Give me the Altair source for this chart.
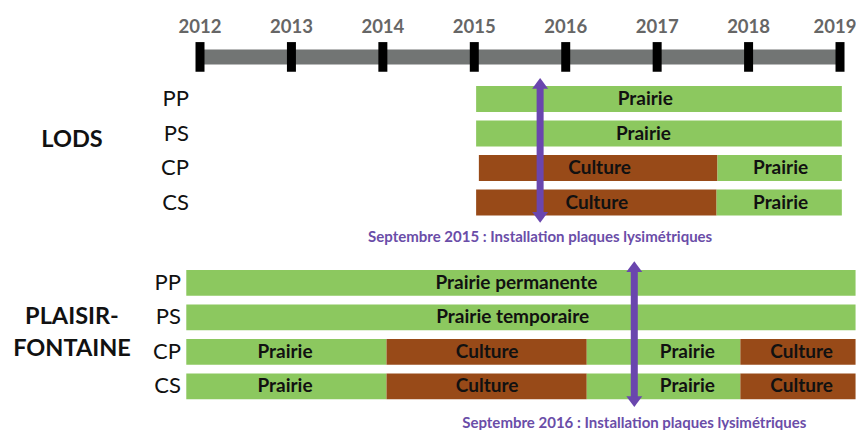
import altair as alt
import pandas as pd

# ---- data ----
years = [2012, 2013, 2014, 2015, 2016, 2017, 2018, 2019]

site_names = ["LODS", "PLAISIR-FONTAINE"]
plot_codes = ["PP", "PS", "CP", "CS"]
site_row_offset = [1.0, 6.33]   # first row of each site block

# segments: (site, plot, land use, start year, end year, label, label position)
seg_site = ["LODS"] * 6 + ["PLAISIR-FONTAINE"] * 10
seg_plot = ["PP", "PS", "CP", "CP", "CS", "CS",
            "PP", "PS", "CP", "CP", "CP", "CP", "CS", "CS", "CS", "CS"]
seg_use = ["Prairie", "Prairie", "Culture", "Prairie", "Culture", "Prairie",
           "Prairie", "Prairie", "Prairie", "Culture", "Prairie", "Culture",
           "Prairie", "Culture", "Prairie", "Culture"]
seg_start = [2015.02, 2015.02, 2015.05, 2017.66, 2015.02, 2017.65,
             2011.85, 2011.85, 2011.85, 2014.04, 2016.23, 2017.91,
             2011.85, 2014.04, 2016.23, 2017.91]
seg_end = [2019.02, 2019.02, 2017.66, 2019.02, 2017.65, 2019.02,
           2019.17, 2019.17, 2014.04, 2016.23, 2017.91, 2019.17,
           2014.04, 2016.23, 2017.91, 2019.17]
seg_label = ["Prairie", "Prairie", "Culture", "Prairie", "Culture", "Prairie",
             "Prairie permanente", "Prairie temporaire", "Prairie", "Culture", "Prairie", "Culture",
             "Prairie", "Culture", "Prairie", "Culture"]
seg_label_at = [2016.87, 2016.85, 2016.37, 2018.35, 2016.34, 2018.35,
                2015.46, 2015.42, 2012.93, 2015.14, 2017.33, 2018.58,
                2012.93, 2015.14, 2017.33, 2018.58]

install_dates = [2015.72, 2016.75]
install_labels = ["Septembre 2015 : Installation plaques lysimétriques",
                  "Septembre 2016 : Installation plaques lysimétriques"]
arrow_top = [0.39, 5.70]
arrow_bottom = [4.59, 9.93]
install_text_row = [5.0, 10.38]

# ---- tables ----
def row_of(site, code):
    return site_row_offset[site_names.index(site)] + plot_codes.index(code)

segs = pd.DataFrame({
    "site": seg_site, "plot": seg_plot, "use": seg_use,
    "start": seg_start, "end": seg_end,
    "label": seg_label, "label_at": seg_label_at,
})
segs["row"] = [row_of(s, p) for s, p in zip(segs["site"], segs["plot"])]
segs["top"] = segs["row"] - 0.375
segs["bot"] = segs["row"] + 0.375

rows = pd.DataFrame([{"site": s, "plot": p, "row": row_of(s, p)}
                     for s in site_names for p in plot_codes])

tl = pd.DataFrame({"year": years, "label": [str(y) for y in years]})
tl["row"] = -0.22
tl["lab_row"] = -1.09
tl["t0"] = -0.65
tl["t1"] = 0.21
tl_bar = pd.DataFrame({"start": [years[0]], "end": [years[-1]], "row": [-0.22]})

arr = pd.DataFrame({"x": install_dates, "top": arrow_top, "bot": arrow_bottom,
                    "label": install_labels, "trow": install_text_row})
arr["s0"] = arr["top"] + 0.2
arr["s1"] = arr["bot"] - 0.2

groups = pd.DataFrame({
    "text": ["LODS", "PLAISIR-", "FONTAINE"],
    "row": [2.2, 7.32, 8.25],
})

W = 848
X = alt.Scale(domain=[2009.9, 2009.9 + W / 91.43], nice=False, zero=False)
Y = alt.Scale(domain=[-1.638, 10.594], nice=False, zero=False, reverse=True)
FONT = "Lato"
GREEN = "#8CC85F"
BROWN = "#984A18"
PURPLE = "#6A46AE"

def xq(f):
    return alt.X(f, type="quantitative", scale=X, axis=None)

def yq(f):
    return alt.Y(f, type="quantitative", scale=Y, axis=None)

base_tl = alt.Chart(tl_bar).mark_rule(color="#727574", strokeWidth=15).encode(
    x=xq("start"), x2="end", y=yq("row"))

ticks = alt.Chart(tl).mark_rule(color="black", strokeWidth=9, strokeCap="butt").encode(
    x=xq("year"), y=yq("t0"), y2="t1")

year_text = alt.Chart(tl[tl["year"] < years[-1]]).mark_text(
    font=FONT, fontSize=18.5, fontWeight="bold", color="#666666").encode(
    x=xq("year"), y=yq("lab_row"), text="label:N")

year_text_last = alt.Chart(tl[tl["year"] == years[-1]]).mark_text(
    font=FONT, fontSize=18.5, fontWeight="bold", color="#666666", dx=-5).encode(
    x=xq("year"), y=yq("lab_row"), text="label:N")

bars = alt.Chart(segs).mark_rect().encode(
    x=xq("start"), x2="end", y=yq("top"), y2="bot",
    color=alt.Color("use:N", scale=alt.Scale(domain=["Prairie", "Culture"],
                                             range=[GREEN, BROWN]), legend=None))

bar_text = alt.Chart(segs).mark_text(font=FONT, fontSize=19, fontWeight="bold",
                                     color="#111111").encode(
    x=xq("label_at"), y=yq("row"), text="label:N")

row_lods = alt.Chart(rows[rows["site"] == "LODS"]).mark_text(
    font=FONT, fontSize=22, align="right", color="#111111").encode(
    x=alt.value(181), y=yq("row"), text="plot:N")

row_pf = alt.Chart(rows[rows["site"] == "PLAISIR-FONTAINE"]).mark_text(
    font=FONT, fontSize=22, align="right", color="#111111").encode(
    x=alt.value(173), y=yq("row"), text="plot:N")

group_text = alt.Chart(groups).mark_text(font=FONT, fontSize=23.5, fontWeight="bold",
                                         color="#111111").encode(
    x=alt.value(64), y=yq("row"), text="text:N")

shaft = alt.Chart(arr).mark_rule(color=PURPLE, strokeWidth=7, strokeCap="butt").encode(
    x=xq("x"), y=yq("s0"), y2="s1")

head_up = alt.Chart(arr).mark_point(shape="M0,0L-1,1.35L1,1.35Z", size=256, filled=True,
                                    opacity=1, color=PURPLE).encode(
    x=xq("x"), y=yq("top"))

head_down = alt.Chart(arr).mark_point(shape="M0,0L-1,-1.35L1,-1.35Z", size=256, filled=True,
                                      opacity=1, color=PURPLE).encode(
    x=xq("x"), y=yq("bot"))

arr_text = alt.Chart(arr).mark_text(font=FONT, fontSize=15, fontWeight="bold",
                                    color="#6A4DA8").encode(
    x=xq("x"), y=yq("trow"), text="label:N")

chart = alt.layer(
    base_tl, ticks, year_text, year_text_last, bars, bar_text, row_lods, row_pf,
    group_text, shaft, head_up, head_down, arr_text
).properties(
    width=W, height=422, padding=0, autosize=alt.AutoSizeParams(type="none")
).configure_view(stroke=None)

chart.save("out.html", embed_options={"renderer": "svg", "actions": False})
